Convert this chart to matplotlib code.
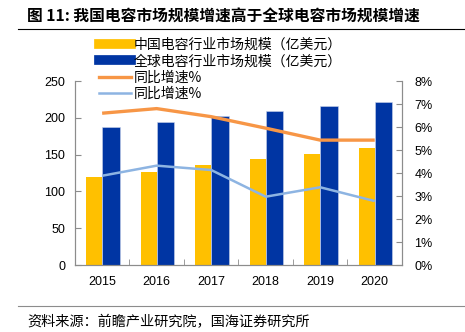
import matplotlib
matplotlib.use("Agg")
import matplotlib.pyplot as plt
import numpy as np
from matplotlib.lines import Line2D

plt.rcParams["font.family"] = ["Liberation Sans", "Noto Sans CJK SC", "DejaVu Sans"]

years = ["2015", "2016", "2017", "2018", "2019", "2020"]
china_size = [119, 127, 136, 144, 151, 159]
global_size = [187, 194, 202, 209, 216, 222]
china_growth = [6.6, 6.8, 6.45, 5.95, 5.43, 5.43]
global_growth = [3.88, 4.32, 4.13, 2.97, 3.38, 2.78]

labels = ["中国电容行业市场规模（亿美元）", "全球电容行业市场规模（亿美元）", "同比增速%", "同比增速%"]
YELLOW = "#FFC000"
NAVY = "#0035A3"
ORANGE = "#F79646"
LIGHTBLUE = "#8DB4E2"
GRAY = "#8C8C8C"

fig = plt.figure(figsize=(4.65, 3.32), dpi=100)
ax = fig.add_axes([0.161, 0.2018, 0.7035, 0.5542])
ax2 = ax.twinx()

x = np.arange(len(years))
ax.bar(x, china_size, width=-0.29, align="edge", color=YELLOW, zorder=2)
ax.bar(x, global_size, width=0.32, align="edge", color=NAVY, edgecolor="#c9d3ea", linewidth=0.4, zorder=2)
ax2.plot(x, china_growth, color=ORANGE, lw=2.4, solid_capstyle="butt")
ax2.plot(x, global_growth, color=LIGHTBLUE, lw=1.8, solid_capstyle="butt")

ax.set_xlim(-0.5, 5.5)
ax.set_ylim(0, 250)
ax2.set_ylim(0, 8)
ax.set_yticks(np.arange(0, 251, 50))
ax2.set_yticks(np.arange(0, 9, 1))
ax2.set_yticklabels([f"{v}%" for v in range(9)])
ax.set_xticks(x)
ax.set_xticklabels(years)
ax.set_xticks(np.arange(-0.5, 6, 1), minor=True)

for a in (ax, ax2):
    a.spines["top"].set_visible(False)
    for s in ("left", "right", "bottom"):
        a.spines[s].set_color(GRAY)
        a.spines[s].set_linewidth(0.8)
ax.tick_params(axis="y", direction="in", length=4, color=GRAY, labelsize=9, pad=7)
ax2.tick_params(axis="y", direction="in", length=4, color=GRAY, labelsize=9, pad=9)
ax.tick_params(axis="x", which="major", length=0, labelsize=9, pad=8)
ax.tick_params(axis="x", which="minor", direction="in", length=4, color=GRAY)

handles = [
    Line2D([], [], color=YELLOW, lw=7),
    Line2D([], [], color=NAVY, lw=7),
    Line2D([], [], color=ORANGE, lw=2.4),
    Line2D([], [], color=LIGHTBLUE, lw=1.8),
]
fig.legend(handles, labels, loc="upper left", bbox_to_anchor=(99 / 465, 1 - 38 / 332),
           frameon=False, handlelength=2.3, handletextpad=0.2,
           labelspacing=0.16, borderpad=0, borderaxespad=0,
           prop={"family": ["Noto Sans CJK SC"], "size": 10})

fig.text(27 / 465, 1 - 17 / 332, "图 11: 我国电容市场规模增速高于全球电容市场规模增速",
         fontsize=11.3, fontweight="bold", va="center", ha="left",
         family=["Noto Sans CJK SC", "DejaVu Sans"])
fig.add_artist(Line2D([18 / 465, 1], [1 - 29 / 332, 1 - 29 / 332], color="black", lw=0.8))
fig.add_artist(Line2D([18 / 465, 1], [1 - 306 / 332, 1 - 306 / 332], color=GRAY, lw=0.8))
fig.text(27 / 465, 1 - 322 / 332, "资料来源：前瞻产业研究院，国海证券研究所",
         fontsize=10.2, va="center", ha="left", family=["Noto Sans CJK SC", "DejaVu Sans"])

fig.savefig("out.png", dpi=100)
